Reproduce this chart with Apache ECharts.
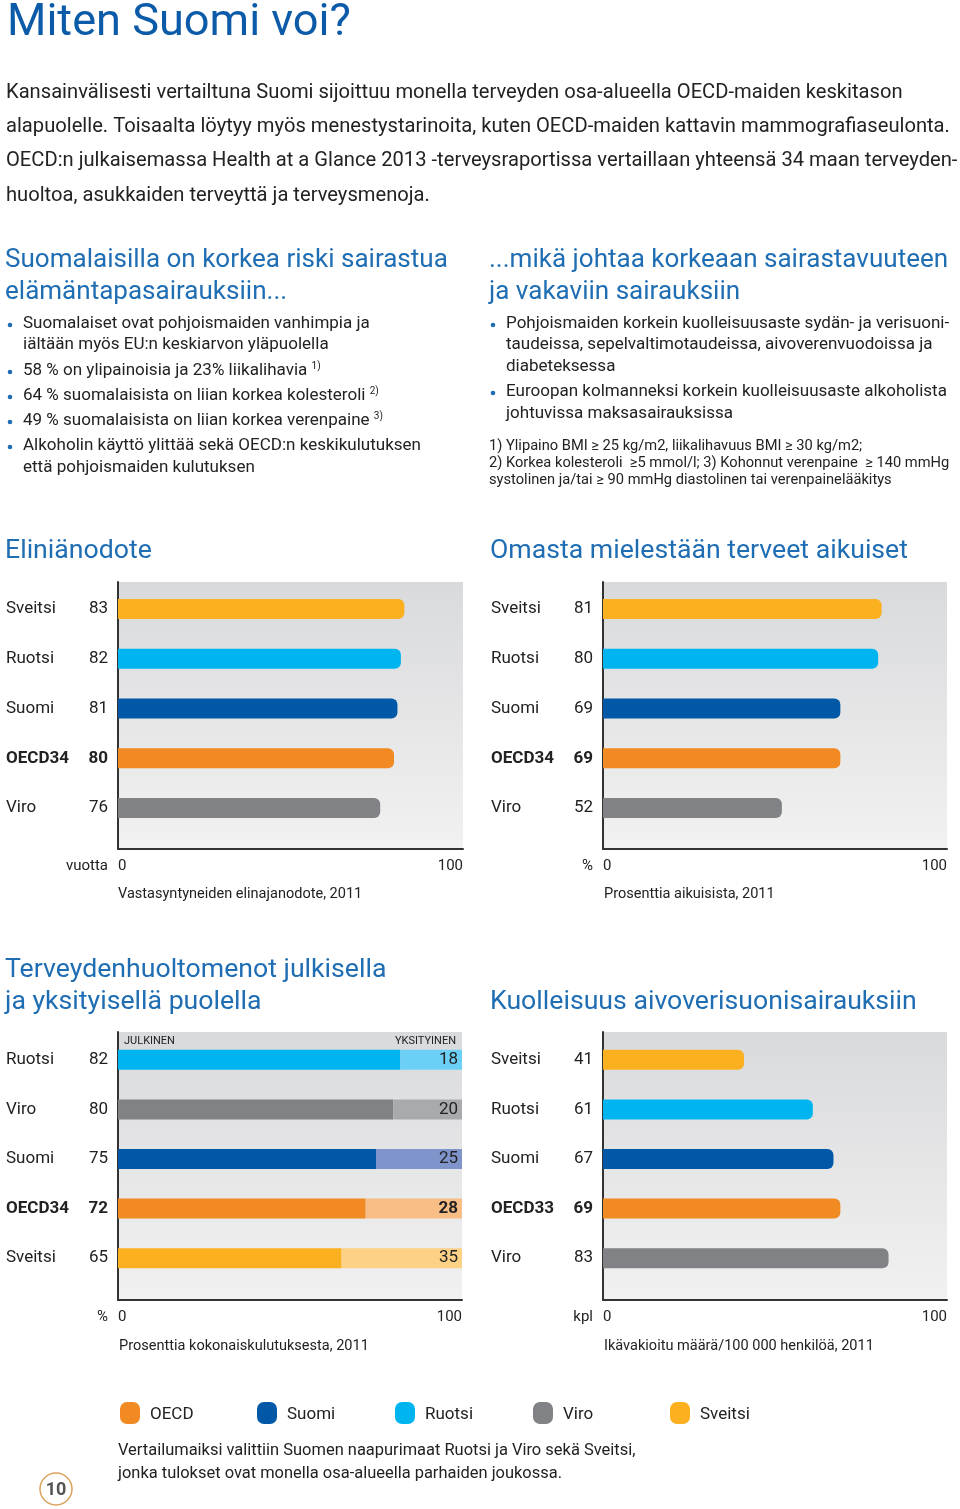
<!DOCTYPE html>
<html><head><meta charset="utf-8">
<script src="https://cdn.jsdelivr.net/npm/echarts@6/dist/echarts.min.js"></script>
<style>html,body{margin:0;padding:0;background:#fff}#c{width:960px;height:1509px}</style>
</head><body><div id="c"></div>
<script>
// ---------- DATA ----------
const lifeCategories = ['Sveitsi', 'Ruotsi', 'Suomi', 'OECD34', 'Viro'];
const lifeValues = [83, 82, 81, 80, 76];

const healthyCategories = ['Sveitsi', 'Ruotsi', 'Suomi', 'OECD34', 'Viro'];
const healthyValues = [81, 80, 69, 69, 52];

const spendCategories = ['Ruotsi', 'Viro', 'Suomi', 'OECD34', 'Sveitsi'];
const spendPublic = [82, 80, 75, 72, 65];
const spendPrivate = [18, 20, 25, 28, 35];

const strokeCategories = ['Sveitsi', 'Ruotsi', 'Suomi', 'OECD33', 'Viro'];
const strokeValues = [41, 61, 67, 69, 83];

const axisMin = 0;
const axisMax = 100;

const legendNames = ['OECD', 'Suomi', 'Ruotsi', 'Viro', 'Sveitsi'];

// ---------- STYLE ----------
const FONT = 'Roboto';
const TXT = '#222';
const BLUE_T = '#0b5ba8';
const BLUE_H = '#1f6db3';
const colors = { OECD: '#f18a22', Suomi: '#0058a6', Ruotsi: '#00b5ef', Viro: '#808285', Sveitsi: '#fbb01f' };
const lightColors = { OECD: '#f9bd86', Suomi: '#7f94cb', Ruotsi: '#6ccff6', Viro: '#a8aaad', Sveitsi: '#fdd186' };
const keyOf = c => c.startsWith('OECD') ? 'OECD' : c;
const DY = 2; // vertical text offset

// measure helper for fitting text widths
const cv = document.createElement('canvas').getContext('2d');
function fit(text, target, weight) {
  cv.font = (weight || 'normal') + ' 100px ' + FONT;
  return +(100 * target / cv.measureText(text).width).toFixed(2);
}

const chart = echarts.init(document.getElementById('c'), null, { renderer: 'canvas' });

const bg = new echarts.graphic.LinearGradient(0, 0, 0, 1, [
  { offset: 0, color: '#d9dadc' }, { offset: 1, color: '#f1f1f1' }
]);

const grids = [], xAxes = [], yAxes = [], series = [];

function labelRich(size) {
  const base = { fontFamily: FONT, fontSize: size, color: TXT };
  return {
    n: Object.assign({ width: 80, align: 'left' }, base),
    v: Object.assign({ width: 22, align: 'right' }, base),
    nb: Object.assign({ width: 80, align: 'left', fontWeight: 'bold' }, base),
    vb: Object.assign({ width: 22, align: 'right', fontWeight: 'bold' }, base)
  };
}

function addPanel(p) {
  const fi = grids.length;
  // frame grid
  grids.push({ left: p.left, top: p.frameTop, width: p.width, height: p.frameH, show: true, backgroundColor: bg, borderWidth: 0 });
  xAxes.push({
    type: 'value', gridIndex: fi, min: axisMin, max: axisMax, interval: 100,
    axisLine: { show: true, onZero: false, lineStyle: { color: '#333', width: 2 } },
    axisTick: { show: false }, splitLine: { show: false },
    axisLabel: { fontFamily: FONT, fontSize: 15, color: TXT, margin: 10, alignMinLabel: 'left', alignMaxLabel: 'right' }
  });
  yAxes.push({
    type: 'value', gridIndex: fi, min: 0, max: 1,
    axisLine: { show: true, onZero: false, lineStyle: { color: '#333', width: 2 } },
    axisTick: { show: false }, splitLine: { show: false }, axisLabel: { show: false }
  });
  // bar grid
  const bi = grids.length;
  grids.push({ left: p.left, top: p.barTop, width: p.width, height: p.barH });
  xAxes.push({ type: 'value', gridIndex: bi, min: axisMin, max: axisMax, show: false });
  const labVals = p.labelValues;
  const cats = p.cats;
  yAxes.push({
    type: 'category', gridIndex: bi, inverse: true, data: cats,
    axisLine: { show: false }, axisTick: { show: false },
    axisLabel: {
      margin: 10,
      formatter: (val, i) => {
        const b = val.startsWith('OECD');
        return '{' + (b ? 'nb' : 'n') + '|' + val + '}{' + (b ? 'vb' : 'v') + '|' + labVals[i] + '}';
      },
      rich: labelRich(17)
    }
  });
  p.series.forEach(s => {
    series.push(Object.assign({ type: 'bar', xAxisIndex: bi, yAxisIndex: bi, barWidth: 20, animation: false }, s));
  });
}

function colored(cats, vals, pal, extra) {
  return vals.map((v, i) => Object.assign({ value: v, itemStyle: { color: pal[keyOf(cats[i])] } }, extra ? extra(i) : {}));
}

addPanel({
  left: 118, width: 345, frameTop: 582, frameH: 267, barTop: 584, barH: 249,
  cats: lifeCategories, labelValues: lifeValues,
  series: [{ data: colored(lifeCategories, lifeValues, colors), itemStyle: { borderRadius: [0, 6, 6, 0] } }]
});
addPanel({
  left: 603, width: 344, frameTop: 582, frameH: 267, barTop: 584, barH: 249,
  cats: healthyCategories, labelValues: healthyValues,
  series: [{ data: colored(healthyCategories, healthyValues, colors), itemStyle: { borderRadius: [0, 6, 6, 0] } }]
});
addPanel({
  left: 118, width: 344, frameTop: 1032, frameH: 268, barTop: 1035, barH: 248,
  cats: spendCategories, labelValues: spendPublic,
  series: [
    { name: 'Julkinen', stack: 'sp', data: colored(spendCategories, spendPublic, colors) },
    {
      name: 'Yksityinen', stack: 'sp',
      data: colored(spendCategories, spendPrivate, lightColors, i => spendCategories[i].startsWith('OECD') ? { label: { fontWeight: 'bold' } } : {}),
      label: { show: true, position: 'insideRight', distance: 4, fontFamily: FONT, fontSize: 17, color: TXT, formatter: '{c}' }
    }
  ]
});
addPanel({
  left: 603, width: 344, frameTop: 1032, frameH: 268, barTop: 1035, barH: 248,
  cats: strokeCategories, labelValues: strokeValues,
  series: [{ data: colored(strokeCategories, strokeValues, colors), itemStyle: { borderRadius: [0, 6, 6, 0] } }]
});

// ---------- TEXT ----------
const G = [];
function T(text, x, y, size, opt) {
  opt = opt || {};
  G.push({
    type: 'text', x: x, y: y + DY, silent: true,
    style: Object.assign({
      text: text, fontFamily: FONT, fontSize: size, fontWeight: opt.weight || 'normal',
      fill: opt.color || TXT, align: opt.align || 'left', verticalAlign: 'middle', rich: opt.rich
    })
  });
}

const titleSize = fit('Miten Suomi voi?', 344);
T('Miten Suomi voi?', 7, 22, titleSize, { color: BLUE_T });

const bodyLines = [
  'Kansainvälisesti vertailtuna Suomi sijoittuu monella terveyden osa-alueella OECD-maiden keskitason',
  'alapuolelle. Toisaalta löytyy myös menestystarinoita, kuten OECD-maiden kattavin mammografiaseulonta.',
  'OECD:n julkaisemassa Health at a Glance 2013 -terveysraportissa vertaillaan yhteensä 34 maan terveyden-',
  'huoltoa, asukkaiden terveyttä ja terveysmenoja.'
];
const bodySize = fit(bodyLines[0], 897);
bodyLines.forEach((l, i) => T(l, 6, 91 + i * 34.2, bodySize));

const headSize = fit('Suomalaisilla on korkea riski sairastua', 443);
T('Suomalaisilla on korkea riski sairastua', 5, 258, headSize, { color: BLUE_H });
T('elämäntapasairauksiin...', 5, 290, headSize, { color: BLUE_H });
T('...mikä johtaa korkeaan sairastavuuteen', 489, 258, headSize, { color: BLUE_H });
T('ja vakaviin sairauksiin', 489, 290, headSize, { color: BLUE_H });

const bulSize = fit('Alkoholin käyttö ylittää sekä OECD:n keskikulutuksen', 398);
const supRich = { s: { fontFamily: FONT, fontSize: 10, fill: TXT, color: TXT, padding: [0, 0, 10, 0] } };
function bullet(x, y) {
  G.push({ type: 'circle', silent: true, shape: { cx: x, cy: y + 1 + DY, r: 2.3 }, style: { fill: BLUE_H } });
}
const leftBul = [
  [322, 'Suomalaiset ovat pohjoismaiden vanhimpia ja', true],
  [343, 'iältään myös EU:n keskiarvon yläpuolella', false],
  [369, '58 % on ylipainoisia ja 23% liikalihavia {s|1)}', true],
  [394, '64 % suomalaisista on liian korkea kolesteroli {s|2)}', true],
  [419, '49 % suomalaisista on liian korkea verenpaine {s|3)}', true],
  [444, 'Alkoholin käyttö ylittää sekä OECD:n keskikulutuksen', true],
  [466, 'että pohjoismaiden kulutuksen', false]
];
leftBul.forEach(b => { T(b[1], 23, b[0], bulSize, { rich: supRich }); if (b[2]) bullet(10, b[0]); });
const rightBul = [
  [322, 'Pohjoismaiden korkein kuolleisuusaste sydän- ja verisuoni-', true],
  [343, 'taudeissa, sepelvaltimotaudeissa, aivoverenvuodoissa ja', false],
  [365, 'diabeteksessa', false],
  [390, 'Euroopan kolmanneksi korkein kuolleisuusaste alkoholista', true],
  [412, 'johtuvissa maksasairauksissa', false]
];
rightBul.forEach(b => { T(b[1], 506, b[0], bulSize); if (b[2]) bullet(493, b[0]); });

const noteSize = fit('systolinen ja/tai ≥ 90 mmHg diastolinen tai verenpainelääkitys', 403);
T('1) Ylipaino BMI ≥ 25 kg/m2, liikalihavuus BMI ≥ 30 kg/m2;', 489, 444, noteSize);
T('2) Korkea kolesteroli  ≥5 mmol/l; 3) Kohonnut verenpaine  ≥ 140 mmHg', 489, 461, noteSize);
T('systolinen ja/tai ≥ 90 mmHg diastolinen tai verenpainelääkitys', 489, 478, noteSize);

// chart titles
const ctSize = fit('Omasta mielestään terveet aikuiset', 418);
T('Eliniänodote', 5, 549, ctSize, { color: BLUE_H });
T('Omasta mielestään terveet aikuiset', 490, 549, ctSize, { color: BLUE_H });
T('Terveydenhuoltomenot julkisella', 5, 968, ctSize, { color: BLUE_H });
T('ja yksityisellä puolella', 5, 1000, ctSize, { color: BLUE_H });
T('Kuolleisuus aivoverisuonisairauksiin', 490, 1000, ctSize, { color: BLUE_H });

// units & captions
const capSize = fit('Ikävakioitu määrä/100 000 henkilöä, 2011', 270);
T('vuotta', 108, 864, 15, { align: 'right' });
T('%', 593, 864, 15, { align: 'right' });
T('%', 108, 1315, 15, { align: 'right' });
T('kpl', 593, 1315, 15, { align: 'right' });
T('Vastasyntyneiden elinajanodote, 2011', 118, 892, capSize);
T('Prosenttia aikuisista, 2011', 604, 892, capSize);
T('Prosenttia kokonaiskulutuksesta, 2011', 119, 1344, capSize);
T('Ikävakioitu määrä/100 000 henkilöä, 2011', 604, 1344, capSize);
T('JULKINEN', 124, 1039, 11);
T('YKSITYINEN', 456, 1039, 11, { align: 'right' });

// legend
const legX = [120, 257, 395, 533, 670];
legendNames.forEach((n, i) => {
  G.push({ type: 'rect', silent: true, shape: { x: legX[i], y: 1402, width: 20, height: 22, r: 7 }, style: { fill: colors[n] } });
  T(n, legX[i] + 30, 1413, 17);
});
const footSize = fit('Vertailumaiksi valittiin Suomen naapurimaat Ruotsi ja Viro sekä Sveitsi,', 518);
T('Vertailumaiksi valittiin Suomen naapurimaat Ruotsi ja Viro sekä Sveitsi,', 118, 1449, footSize);
T('jonka tulokset ovat monella osa-alueella parhaiden joukossa.', 118, 1472, footSize);

// page number
G.push({ type: 'circle', silent: true, shape: { cx: 56, cy: 1489, r: 16 }, style: { fill: '#fff', stroke: '#dba25c', lineWidth: 1.5 } });
T('10', 56, 1488, 18, { align: 'center', weight: 'bold', color: '#555' });

chart.setOption({
  animation: false,
  grid: grids, xAxis: xAxes, yAxis: yAxes, series: series,
  graphic: { elements: G }
});
</script></body></html>
